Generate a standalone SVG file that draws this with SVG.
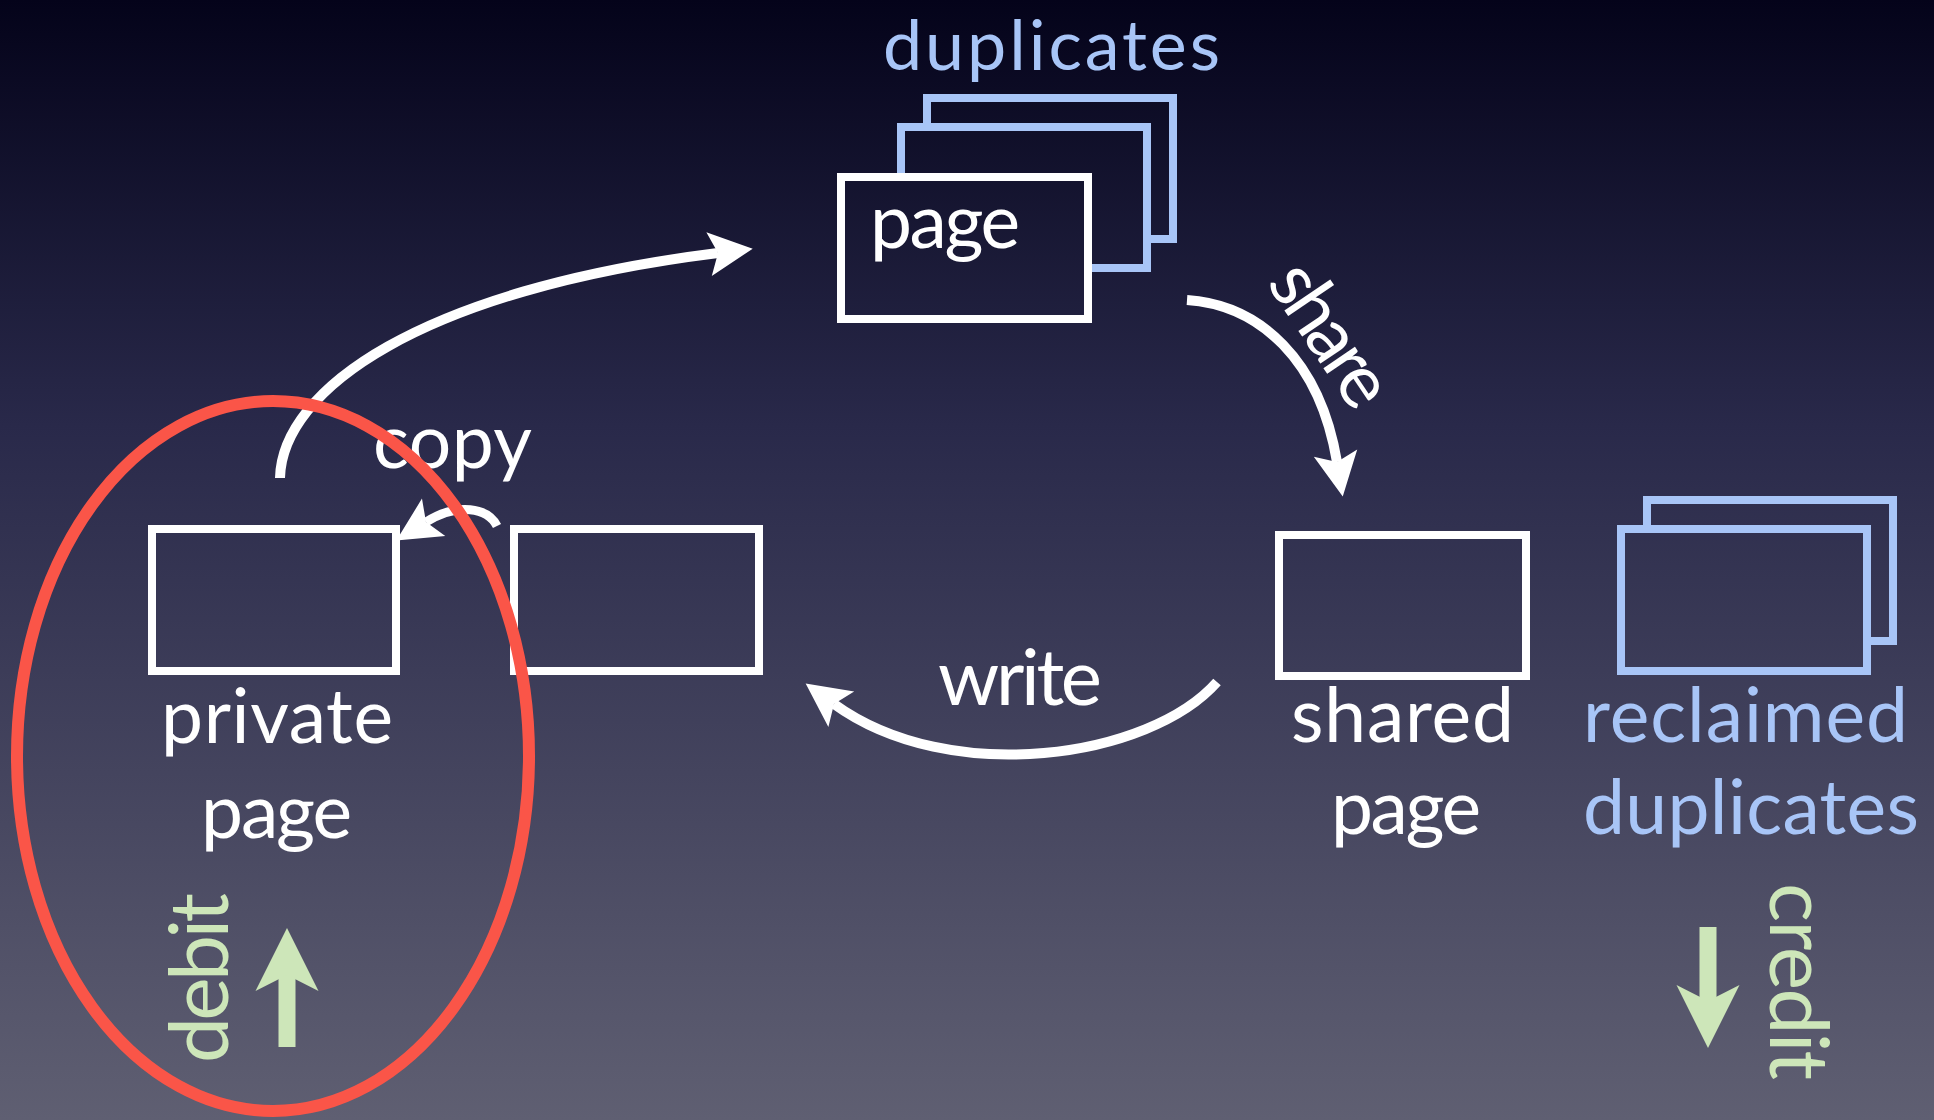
<svg xmlns="http://www.w3.org/2000/svg" width="1934" height="1120" viewBox="0 0 1934 1120">
<defs>
<linearGradient id="bg" gradientUnits="userSpaceOnUse" x1="0" y1="0" x2="0" y2="1120">
<stop offset="0" stop-color="#04031a"/>
<stop offset="0.38" stop-color="#29294a"/>
<stop offset="1" stop-color="#5f5f72"/>
</linearGradient>
<marker id="wh" markerUnits="userSpaceOnUse" orient="auto" overflow="visible" refX="0" refY="0" markerWidth="80" markerHeight="80">
<path d="M35 0 L-9 -22 L0 0 L-9 22 Z" fill="#ffffff"/>
</marker>
<marker id="gh" markerUnits="userSpaceOnUse" orient="auto" overflow="visible" refX="0" refY="0" markerWidth="100" markerHeight="100">
<path d="M47 0 L-16 -31.5 L0 0 L-16 31.5 Z" fill="#cde6b9"/>
</marker>
<style>
.t{font-family:"Lato","Liberation Sans",sans-serif;font-size:75px;fill:#ffffff}
.b{fill:#a8c5f7}
.g{font-size:82px;fill:#cde6b9}
.wr{fill:url(#bg);stroke:#ffffff;stroke-width:8}
.br{fill:url(#bg);stroke:#a8c5f7;stroke-width:8}
.arc{fill:none;stroke:#ffffff;stroke-width:10;marker-end:url(#wh)}
.ga{fill:none;stroke:#cde6b9;stroke-width:17;marker-end:url(#gh)}
</style>
</defs>
<rect x="0" y="0" width="1934" height="1120" fill="url(#bg)"/>

<g id="duplicates-stack">
<text class="t b" x="883" y="70" style="font-size:70px" textLength="337" lengthAdjust="spacing">duplicates</text>
<rect class="br" x="927" y="98" width="246" height="141"/>
<rect class="br" x="901" y="127" width="246" height="141"/>
<rect class="wr" x="841" y="177" width="247" height="142"/>
<text class="t" x="870" y="248" textLength="150" lengthAdjust="spacing">page</text>
</g>

<g id="private-page">
<rect class="wr" x="152" y="529" width="244" height="142"/>
<text class="t" x="161" y="743" textLength="232" lengthAdjust="spacing">private</text>
<text class="t" x="201" y="838" textLength="151" lengthAdjust="spacing">page</text>
</g>

<g id="source-page">
<rect class="wr" x="514" y="529" width="245" height="142"/>
</g>

<g id="shared-page">
<rect class="wr" x="1279" y="535" width="247" height="141"/>
<text class="t" x="1291" y="742" textLength="223" lengthAdjust="spacing">shared</text>
<text class="t" x="1331" y="834" textLength="150" lengthAdjust="spacing">page</text>
</g>

<g id="reclaimed-duplicates">
<rect class="br" x="1647" y="500" width="246" height="141"/>
<rect class="br" x="1621" y="529" width="246" height="142"/>
<text class="t b" x="1583" y="742" textLength="325" lengthAdjust="spacing">reclaimed</text>
<text class="t b" x="1583" y="834" textLength="336" lengthAdjust="spacing">duplicates</text>
</g>

<g id="debit">
<text class="t g" transform="translate(228,1063) rotate(-90)" textLength="170" lengthAdjust="spacing">debit</text>
<path class="ga" d="M287 1047 L287 975"/>
</g>

<g id="credit">
<text class="t g" transform="translate(1770,883) rotate(90)" textLength="197" lengthAdjust="spacing">credit</text>
<path class="ga" d="M1708 927 L1708 1001"/>
</g>

<g id="connectors">
<path id="copy-up" class="arc" d="M280 478 C282 390 420 290 718 253"/>
<path id="copy-small" class="arc" style="stroke-width:9" d="M497 526 C488 508 458 502 426 522"/>
<path id="share" class="arc" d="M1187 300 C1260 305 1320 360 1337 462"/>
<path id="write" class="arc" d="M1217 682 C1150 758 950 788 834 704"/>
<text class="t" x="373" y="468" textLength="159" lengthAdjust="spacing">copy</text>
<text class="t" transform="translate(1266,283) rotate(56)" textLength="158" lengthAdjust="spacing">share</text>
<text class="t" x="938" y="705" style="font-size:78px" textLength="164" lengthAdjust="spacing">write</text>
</g>

<g id="highlight">
<ellipse cx="273" cy="756" rx="256" ry="355" fill="none" stroke="#fa5548" stroke-width="12"/>
</g>
</svg>
